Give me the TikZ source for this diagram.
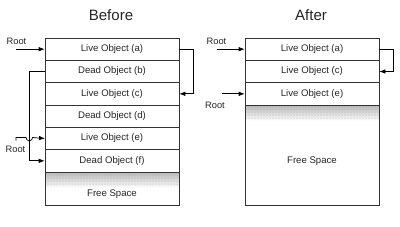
\documentclass[tikz,border=0pt]{standalone}
\usepackage{fontspec}
\setmainfont{Liberation Sans}
\usetikzlibrary{arrows.meta,patterns}
\begin{document}
\begin{tikzpicture}[x=1pt,y=-1pt,
  cell/.style={draw=black!80,line width=0.7pt,minimum width=134pt,minimum height=22.33pt,inner sep=0pt,font=\fontsize{9.6}{11}\selectfont,text=black!85},
  freetxt/.style={font=\fontsize{9.6}{11}\selectfont,text=black!85},
  title/.style={font=\fontsize{15}{17}\selectfont,text=black!85},
  rootlbl/.style={font=\fontsize{9.3}{10}\selectfont,text=black!85},
  arr/.style={line width=0.7pt,-{Latex[length=6pt,width=4.5pt]}},
  stipple/.style={top color=gray!55,bottom color=white}]
\useasboundingbox (0,0) rectangle (400,226);
\fill[white] (0,0) rectangle (400,226);
% titles
\node[title] (tb) at (111,15) {Before};
\node[title] (ta) at (311,15) {After};
% shading strips
\shade[stipple] (45,172) rectangle (179,188);
\fill[pattern=dots,pattern color=gray!70] (45,172) rectangle (179,185);
\shade[stipple] (245,105) rectangle (379,121);
\fill[pattern=dots,pattern color=gray!70] (245,105) rectangle (379,118);
% left column
\node[cell] (a) at (112,49.17) {Live Object (a)};
\node[cell] (b) at (112,71.5) {Dead Object (b)};
\node[cell] (c) at (112,93.83) {Live Object (c)};
\node[cell] (d) at (112,116.17) {Dead Object (d)};
\node[cell] (e) at (112,138.5) {Live Object (e)};
\node[cell] (f) at (112,160.83) {Dead Object (f)};
\draw[line width=0.7pt,draw=black!80] (45,172) rectangle (179,205);
\node[freetxt] (fl) at (112,194) {Free Space};
% right column
\node[cell] (ra) at (312,49.17) {Live Object (a)};
\node[cell] (rc) at (312,71.5) {Live Object (c)};
\node[cell] (re) at (312,93.83) {Live Object (e)};
\draw[line width=0.7pt,draw=black!80] (245,105) rectangle (379,205);
\node[freetxt] (fr) at (312,161) {Free Space};
% left connectors
\node[rootlbl] (r1) at (16.5,41) {Root};
\coordinate (r1s) at (16,49.17);
\draw[arr] (r1s) -- (a.west);
\draw[arr] (a.east) -- ++(14,0) |- (c.east);
\draw[arr] (b.west) -- (29.3,71.5) |- (f.west);
\node[rootlbl] (r2) at (15.5,149) {Root};
\coordinate (r2s) at (16,140.5);
\draw[arr] (r2s) -- (16,137.5) -- (26,137.5) arc[start angle=180,end angle=0,radius=3.3] -- (45,138.5);
% right connectors
\node[rootlbl] (r3) at (216.5,41) {Root};
\coordinate (r3s) at (217,49.17);
\draw[arr] (r3s) -- (ra.west);
\draw[arr] (ra.east) -- ++(14,0) |- (rc.east);
\node[rootlbl] (r4) at (215,105) {Root};
\coordinate (r4s) at (222,93.83);
\draw[arr] (r4s) -- (re.west);
\end{tikzpicture}
\end{document}
